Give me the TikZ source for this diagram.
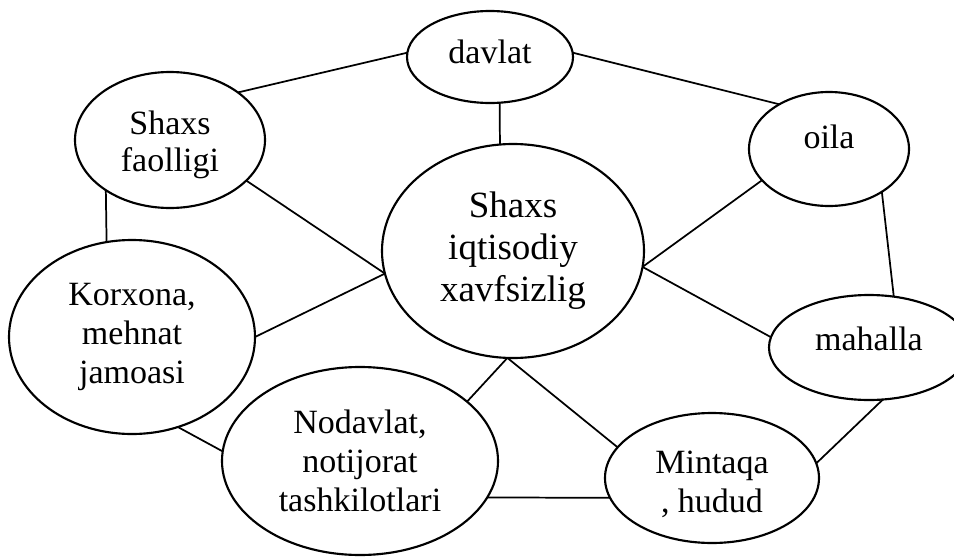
\documentclass[tikz,border=0pt]{standalone}
\usepackage{fontspec}
\setmainfont{Liberation Serif}
\usetikzlibrary{shapes.geometric}

\begin{document}
\begin{tikzpicture}[
    x=0.75pt, y=-0.75pt,
    % ── shared styles ──
    bubble/.style 2 args={ellipse, draw=black, line width=1.6pt,
        inner sep=0pt, outer sep=0pt, align=center,
        font=\fontsize{25.5pt}{29.25pt}\selectfont,
        minimum width=#1, minimum height=#2},
    big text/.style={font=\fontsize{27.75pt}{31.5pt}\selectfont},
    tight text/.style={font=\fontsize{25.5pt}{27.75pt}\selectfont},
    lift/.style={text height=17.4pt, text depth=#1},
    link/.style={draw=black, line width=1.3pt},
]

% ══════════════════════════════════════════════════════════════════════
%  CANVAS
% ══════════════════════════════════════════════════════════════════════
\clip (0,0) rectangle (954,557);
\fill[white] (0,0) rectangle (954,557);

% ══════════════════════════════════════════════════════════════════════
%  CENTRE + SURROUNDING ELLIPSES
% ══════════════════════════════════════════════════════════════════════
\node[bubble={196.5pt}{160.5pt}, big text] (iqt) at (513,251)
    {Shaxs\\iqtisodiy\\xavfsizlig};

\node[bubble={124.5pt}{69pt}, lift=8.4pt] (davlat) at (490,57) {davlat};
\node[bubble={142.5pt}{102pt}, tight text, text height=52pt,
    text depth=5.5pt] (faol) at (170,140) {Shaxs\\faolligi};
\node[bubble={120pt}{85.5pt}, lift=18.9pt] (oila) at (829,149) {oila};
\node[bubble={184.5pt}{145.5pt}] (korx) at (132,337)
    {Korxona,\\mehnat\\jamoasi};
\node[bubble={150pt}{78.75pt}, lift=12.2pt] (mahalla) at (869,347.5) {mahalla};
\node[bubble={207pt}{141pt}] (nodav) at (360,461)
    {Nodavlat,\\notijorat\\tashkilotlari};
\node[bubble={160.5pt}{97.5pt}, text height=54.6pt, text depth=3.6pt]
    (mint) at (712,478) {Mintaqa\\, hudud};

% ══════════════════════════════════════════════════════════════════════
%  LINKS
% ══════════════════════════════════════════════════════════════════════
\draw[link] (davlat.177) -- (faol.35);
\draw[link] (davlat.3) -- (oila.138);
\draw[link] (davlat.282) -- (iqt.97);
\draw[link] (faol.218) -- (korx.105);
\draw[link] (faol.332) -- (iqt.190);
\draw[link] (korx.east) -- (iqt.190);
\draw[link] (oila.205) -- (iqt.353);
\draw[link] (oila.321) -- (mahalla.64);
\draw[link] (iqt.353) -- (mahalla.174);
\draw[link] (iqt.267) -- (nodav.29);
\draw[link] (iqt.267) -- (mint.162);
\draw[link] (korx.297) -- (nodav.176);
\draw[link] (nodav.344) -- (mint.191);
\draw[link] (mint.8) -- (mahalla.285);

\end{tikzpicture}
\end{document}
